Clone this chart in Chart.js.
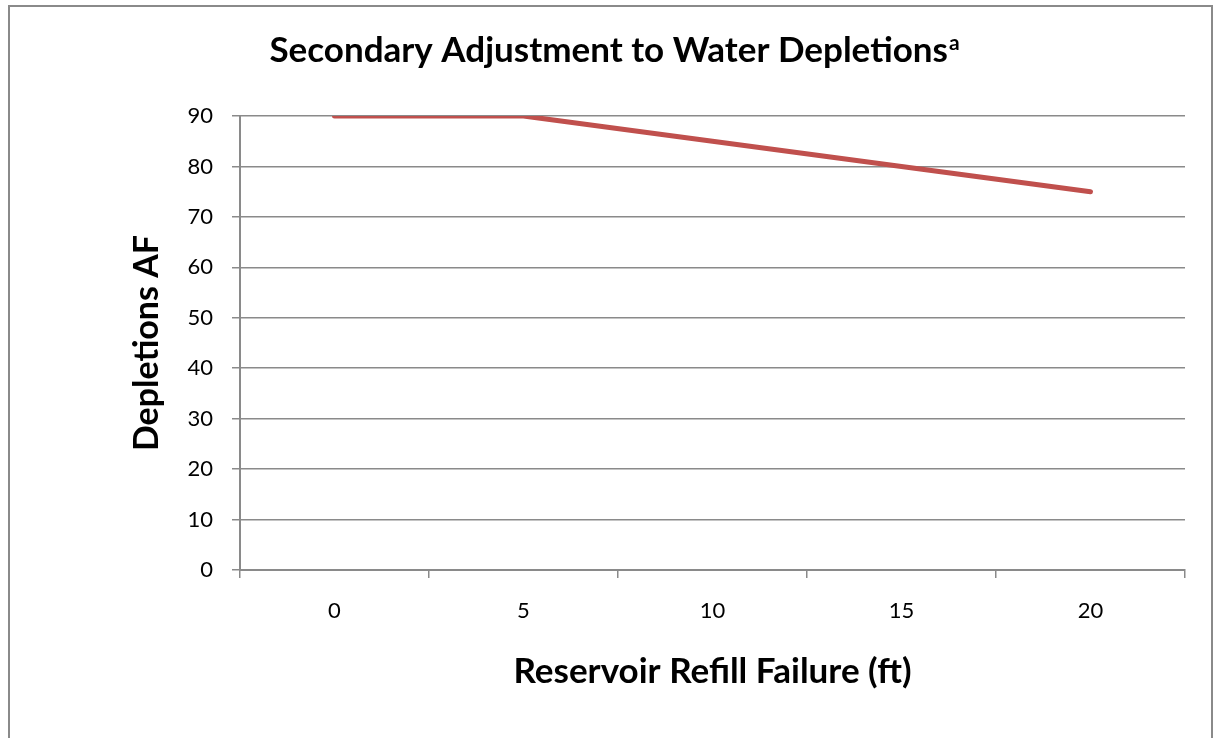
<!DOCTYPE html>
<html>
<head>
<meta charset="utf-8">
<script src="https://cdn.jsdelivr.net/npm/chart.js@4.4.0/dist/chart.umd.min.js"></script>
<style>
  html, body { margin: 0; padding: 0; background: #fff; }
  #wrap { width: 1215px; height: 738px; position: relative; }
</style>
</head>
<body>
<div id="wrap"><canvas id="myChart" width="1215" height="738"></canvas></div>
<script>
// data
const refillFailure = ["0", "5", "10", "15", "20"];
const depletions = [90, 90, 85, 80, 75];
const yTicks = [0, 10, 20, 30, 40, 50, 60, 70, 80, 90];

const titleMain = "Secondary Adjustment to Water Depletions";
const titleSup = "a";
const xTitle = "Reservoir Refill Failure (ft)";
const yTitle = "Depletions AF";

const FONT = "Lato, 'Open Sans', sans-serif";
const GREY = "#8a8a8a";

// frame + title with a superscript
const framePlugin = {
  id: "frame",
  beforeDraw(chart) {
    const ctx = chart.ctx;
    ctx.save();
    ctx.fillStyle = "#fff";
    ctx.fillRect(0, 0, chart.width, chart.height);
    ctx.strokeStyle = GREY;
    ctx.lineWidth = 2;
    ctx.strokeRect(9, 6, 1203, 800);
    ctx.restore();
  },
  afterDraw(chart) {
    const ctx = chart.ctx;
    ctx.save();
    ctx.fillStyle = "#000";
    ctx.textBaseline = "alphabetic";
    ctx.font = "bold 35px " + FONT;
    const w1 = ctx.measureText(titleMain).width;
    ctx.font = "bold 21px " + FONT;
    const w2 = ctx.measureText(titleSup).width;
    const x0 = 614 - (w1 + w2) / 2;
    ctx.font = "bold 35px " + FONT;
    ctx.fillText(titleMain, x0, 62);
    ctx.font = "bold 21px " + FONT;
    ctx.fillText(titleSup, x0 + w1 + 1, 50);
    ctx.restore();
  }
};

const ctx = document.getElementById("myChart").getContext("2d");
new Chart(ctx, {
  type: "line",
  data: {
    labels: refillFailure,
    datasets: [{
      label: "Depletions",
      data: depletions,
      borderColor: "#C0504D",
      borderWidth: 5,
      borderCapStyle: "round",
      pointRadius: 0,
      tension: 0,
      fill: false
    }]
  },
  options: {
    responsive: false,
    animation: false,
    layout: { padding: { top: 116, right: 30, left: 0, bottom: 0 } },
    plugins: {
      legend: { display: false },
      tooltip: { enabled: false }
    },
    scales: {
      x: {
        type: "category",
        offset: true,
        afterFit: s => { s.height = 168; },
        grid: {
          offset: true,
          drawOnChartArea: false,
          drawTicks: true,
          tickLength: 8,
          color: GREY,
          lineWidth: 1.5
        },
        border: { color: GREY, width: 2 },
        ticks: {
          color: "#000",
          padding: 20,
          font: { family: FONT, size: 22 }
        },
        title: {
          display: true,
          text: xTitle,
          color: "#000",
          font: { family: FONT, size: 35, weight: "bold", lineHeight: 1.2 },
          padding: { top: 0, bottom: 45 }
        }
      },
      y: {
        min: 0,
        max: 90,
        afterFit: s => { s.width = 240; },
        afterBuildTicks: s => { s.ticks = yTicks.map(v => ({ value: v })); },
        grid: {
          drawTicks: true,
          tickLength: 8,
          color: GREY,
          lineWidth: 1.5
        },
        border: { color: GREY, width: 2 },
        ticks: {
          color: "#000",
          padding: 19,
          font: { family: FONT, size: 22 }
        },
        title: {
          display: true,
          text: yTitle,
          color: "#000",
          font: { family: FONT, size: 34, weight: "bold", lineHeight: 1.2 },
          padding: { top: 127, bottom: 0 }
        }
      }
    }
  },
  plugins: [framePlugin]
});
</script>
</body>
</html>
